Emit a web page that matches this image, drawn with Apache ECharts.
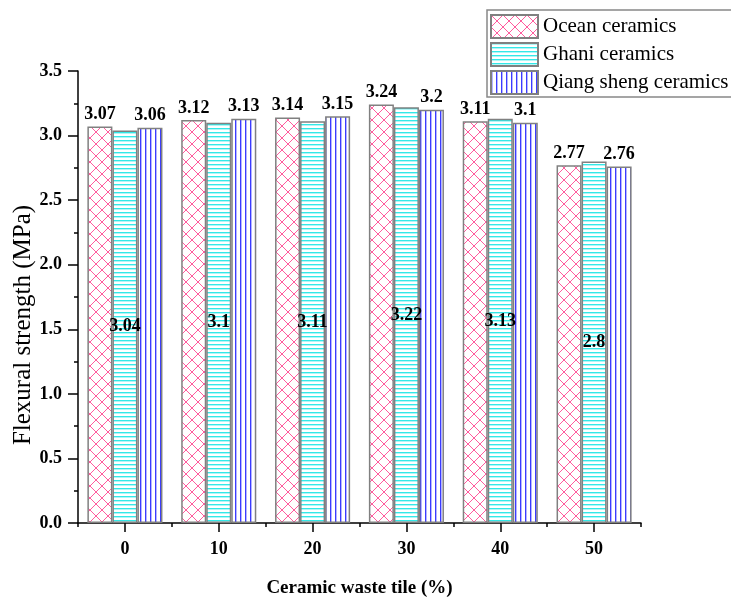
<!DOCTYPE html>
<html>
<head>
<meta charset="utf-8">
<script src="https://cdn.jsdelivr.net/npm/echarts@6/dist/echarts.min.js"></script>
<style>html,body{margin:0;padding:0;background:#fff;}#c{width:731px;height:598px;}</style>
</head>
<body>
<div id="c"></div>
<script>
const categories = ['0', '10', '20', '30', '40', '50'];
const oceanValues = [3.07, 3.12, 3.14, 3.24, 3.11, 2.77];
const ghaniValues = [3.04, 3.1, 3.11, 3.22, 3.13, 2.8];
const qiangValues = [3.06, 3.13, 3.15, 3.2, 3.1, 2.76];
const seriesNames = ['Ocean ceramics', 'Ghani ceramics', 'Qiang sheng ceramics'];

function makeCanvas(w, h, draw) {
  const c = document.createElement('canvas');
  c.width = w; c.height = h;
  const ctx = c.getContext('2d');
  ctx.fillStyle = '#ffffff';
  ctx.fillRect(0, 0, w, h);
  draw(ctx);
  return c;
}
const crossPat = makeCanvas(12, 12, ctx => {
  ctx.strokeStyle = '#ff5c9d';
  ctx.lineWidth = 1;
  ctx.beginPath();
  ctx.moveTo(0, 0); ctx.lineTo(12, 12);
  ctx.moveTo(12, 0); ctx.lineTo(0, 12);
  ctx.stroke();
});
const hPat = makeCanvas(4, 4, ctx => {
  ctx.fillStyle = '#33e8e8';
  ctx.fillRect(0, 0, 4, 1);
  ctx.fillStyle = '#b0f6f6';
  ctx.fillRect(0, 1, 4, 1);
});
const vPat = makeCanvas(5, 5, ctx => {
  ctx.fillStyle = '#3b3bff';
  ctx.fillRect(0, 0, 1, 5);
  ctx.fillStyle = '#b5b5ff';
  ctx.fillRect(1, 0, 1, 5);
});

const font = 'Liberation Serif';
const chart = echarts.init(document.getElementById('c'), null, {renderer: 'canvas'});

function mkSeries(name, data, pat, pos) {
  return {
    name: name,
    type: 'bar',
    data: data,
    barGap: '0%',
    barCategoryGap: '20%',
    itemStyle: {
      color: {image: pat, repeat: 'repeat'},
      borderColor: '#808080',
      borderWidth: 1.5
    },
    label: {
      show: true,
      position: pos,
      distance: 3,
      color: '#000',
      fontFamily: font,
      fontWeight: 'bold',
      fontSize: 18
    }
  };
}

chart.setOption({
  animation: false,
  textStyle: {fontFamily: font},
  grid: {left: 78, right: 90, top: 71, bottom: 75, containLabel: false, outerBoundsMode: 'none'},
  legend: {
    orient: 'vertical',
    left: 487,
    top: 10,
    data: seriesNames,
    icon: 'rect',
    itemWidth: 47,
    itemHeight: 23,
    itemGap: 3,
    padding: [4, 14, 2, 3],
    borderColor: '#888',
    borderWidth: 1.5,
    textStyle: {fontFamily: font, fontSize: 21, lineHeight: 23, color: '#000', padding: [0, 0, 0, 0]}
  },
  xAxis: [{
    type: 'category',
    data: categories,
    name: 'Ceramic waste tile (%)',
    nameLocation: 'middle',
    nameGap: 56,
    nameTextStyle: {fontFamily: font, fontSize: 19, fontWeight: 'bold', color: '#000'},
    axisLine: {lineStyle: {color: '#000', width: 1.5}},
    axisTick: {show: true, length: 4, lineStyle: {color: '#000', width: 1.5}},
    axisLabel: {show: true, margin: 17, fontFamily: font, fontSize: 18, fontWeight: 'bold', color: '#000'}
  }, {
    type: 'category',
    data: categories,
    position: 'bottom',
    axisLine: {show: false},
    axisTick: {show: true, alignWithLabel: true, length: 9, lineStyle: {color: '#000', width: 1.5}},
    axisLabel: {show: false}
  }],
  yAxis: {
    type: 'value',
    min: 0,
    max: 3.5,
    interval: 0.5,
    name: 'Flexural strength (MPa)',
    nameLocation: 'middle',
    nameGap: 42,
    nameMoveOverlap: false,
    nameTextStyle: {fontFamily: font, fontSize: 25, color: '#000', padding: [0, 56, 0, 0]},
    axisLine: {show: true, lineStyle: {color: '#000', width: 1.5}},
    axisTick: {show: true, length: 10, lineStyle: {color: '#000', width: 1.5}},
    minorTick: {show: true, splitNumber: 2, length: 4, lineStyle: {color: '#000', width: 1.5}},
    splitLine: {show: false},
    axisLabel: {
      margin: 16, fontFamily: font, fontSize: 18, fontWeight: 'bold', color: '#000',
      formatter: v => v.toFixed(1)
    }
  },
  series: [
    mkSeries(seriesNames[0], oceanValues, crossPat, 'top'),
    mkSeries(seriesNames[1], ghaniValues, hPat, 'inside'),
    mkSeries(seriesNames[2], qiangValues, vPat, 'top')
  ]
});
</script>
</body>
</html>
